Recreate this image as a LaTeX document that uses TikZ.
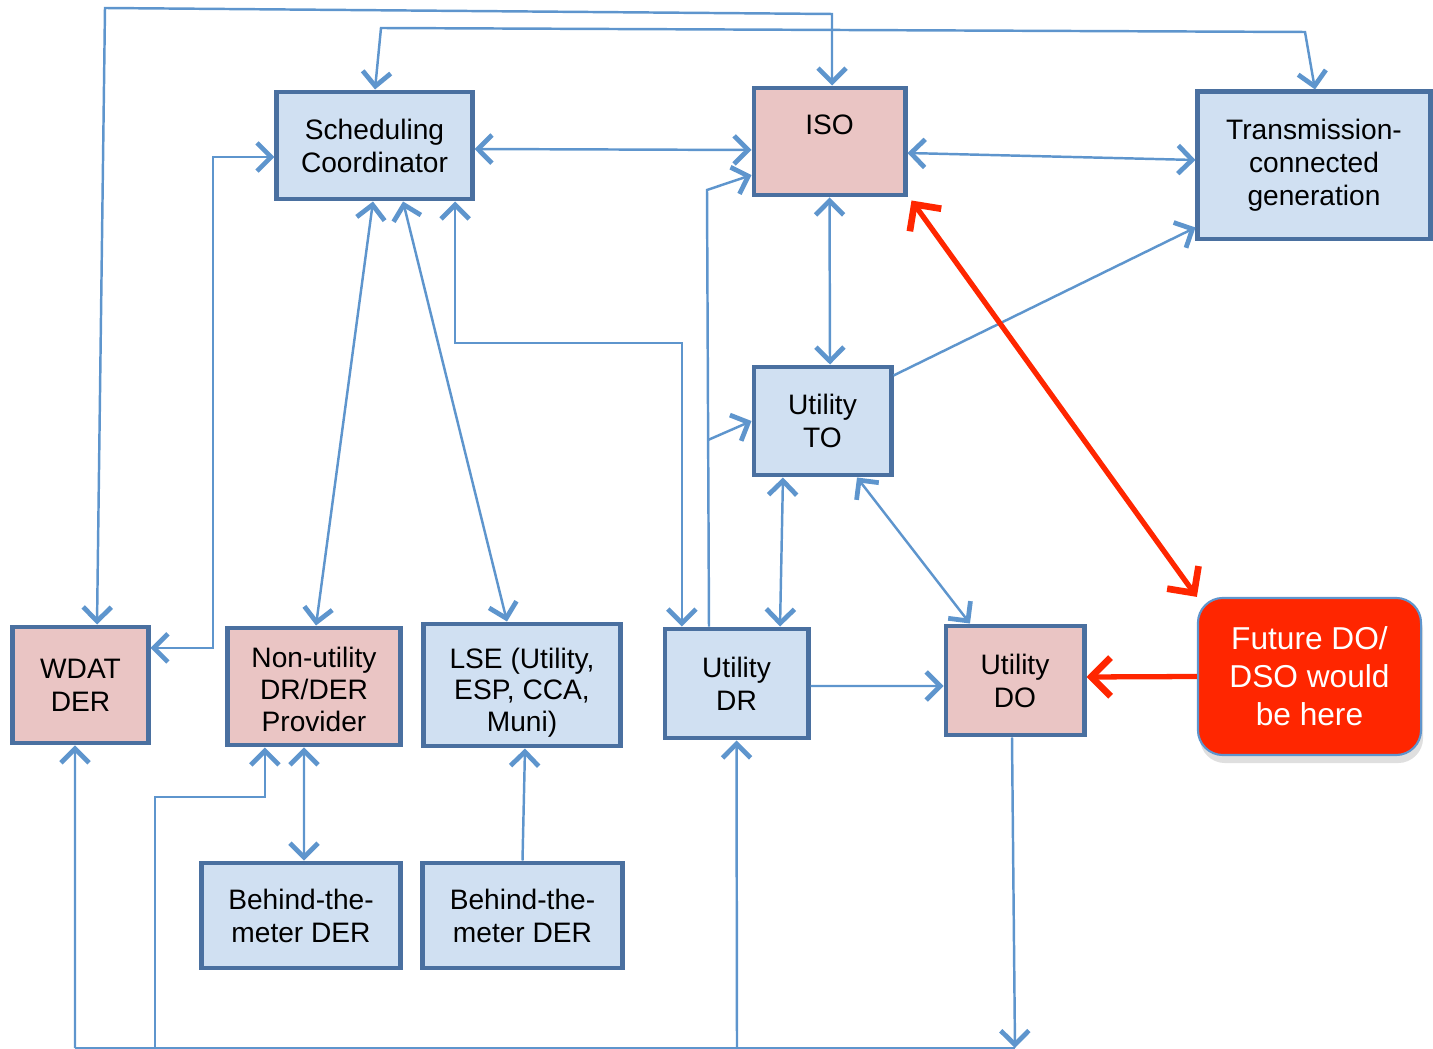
\documentclass[tikz,border=0pt]{standalone}
\usepackage{fontspec}
\setmainfont{Liberation Sans}
\usepackage{tikz}
\usepackage{xcolor}
\usetikzlibrary{arrows.meta,shadows}

\definecolor{boxblue}{HTML}{D0E0F2}
\definecolor{boxpink}{HTML}{EAC5C4}
\definecolor{boxline}{HTML}{4A70A0}
\definecolor{linkblue}{HTML}{5E95CD}
\definecolor{futred}{HTML}{FF2600}

\begin{document}
\begin{tikzpicture}[x=0.01cm, y=-0.01cm,
    font=\fontsize{8}{9.4}\selectfont,
    box/.style={draw=boxline, line width=1.4pt, inner sep=0pt, align=center},
    bluebox/.style={box, fill=boxblue},
    pinkbox/.style={box, fill=boxpink},
    link/.style={draw=linkblue, line width=0.7pt, >={Straight Barb[length=4pt,width=8pt,line width=1.35pt]}},
    redlink/.style={draw=futred, line width=1.5pt, >={Straight Barb[length=5.5pt,width=11pt,line width=1.9pt]}}]
					\useasboundingbox (0,0) rectangle (1433,1049);

					% boxes
					\node[bluebox, minimum width=1.95cm, minimum height=1.07cm] (sc) at (374.5,145.5) {Scheduling\\Coordinator};
					\node[pinkbox, minimum width=1.51cm, minimum height=1.07cm] (iso) at (829.5,141.5) {ISO\\\mbox{}};
					\node[bluebox, minimum width=2.32cm, minimum height=1.47cm] (tcg) at (1314,165.5) {Transmission-\\connected\\generation};
					\node[bluebox, minimum width=1.37cm, minimum height=1.08cm] (uto) at (822.5,421) {Utility\\TO};
					\node[pinkbox, minimum width=1.35cm, minimum height=1.16cm] (wdat) at (80.5,685) {WDAT\\DER};
					\node[pinkbox, minimum width=1.72cm, minimum height=1.17cm, font=\fontsize{8}{9}\selectfont, text height=25.5pt] (nup) at (314,686.5) {Non-utility\\DR/DER\\Provider};
					\node[bluebox, minimum width=1.96cm, minimum height=1.22cm, font=\fontsize{8}{9}\selectfont, text height=28pt] (lse) at (522,685) {LSE (Utility,\\ESP, CCA,\\Muni)};
					\node[bluebox, minimum width=1.43cm, minimum height=1.09cm] (udr) at (736.5,683.5) {Utility\\DR};
					\node[pinkbox, minimum width=1.38cm, minimum height=1.09cm] (udo) at (1015,680.5) {Utility\\DO};
					\node[bluebox, minimum width=1.98cm, minimum height=1.05cm] (btma) at (301,915.5) {Behind-the-\\meter DER};
					\node[bluebox, minimum width=1.99cm, minimum height=1.05cm] (btmb) at (522.5,915.5) {Behind-the-\\meter DER};
					\node[draw=linkblue, line width=0.6pt, fill=futred, rounded corners=2.5mm, text=white, align=center,
					      minimum width=2.23cm, minimum height=1.57cm, inner sep=0pt,
					      font=\fontsize{9}{10.8}\selectfont,
					      drop shadow={opacity=0.25, shadow xshift=0.2mm, shadow yshift=-0.8mm}] (fut) at (1309.5,676.5) {Future DO/\\DSO would\\be here};

					% long lines over the top
					\draw[link, <->] ([xshift=1.65mm]wdat.north) -- (105,8) -- (832,14) -- ([xshift=.25mm]iso.north);
					\draw[link, <->] ([xshift=.05mm]sc.north) -- (381,28) -- (1305,32) -- ([xshift=.1mm]tcg.north);

					% upper part
					\draw[link, <->] ([yshift=-.35mm]sc.east) -- ([yshift=-.85mm]iso.west);
					\draw[link, <->] ([yshift=-1.15mm]iso.east) -- ([yshift=.55mm]tcg.west);
					\draw[link, <->] (iso.south) -- ([xshift=.75mm]uto.north);
					\draw[link, ->] ([yshift=-1.1mm]uto.north east) -- ([yshift=1.4mm]tcg.south west);
					\draw[link, <->] ([yshift=-1.15mm]sc.west) -| (213,400) |- ([yshift=3.7mm]wdat.east);
					\draw[link, <->] ([xshift=-.15mm]sc.south) -- ([xshift=.2mm]nup.north);
					\draw[link, <->] ([xshift=2.85mm]sc.south) -- ([xshift=-1.5mm]lse.north);
					\draw[link, <->] ([xshift=8.05mm]sc.south) |- (600,343) -| ([xshift=-5.45mm]udr.north);

					% utility DR up to ISO and TO
					\coordinate (drtap) at (708,440);
					\draw[link, ->] ([xshift=-2.75mm]udr.north) -- (707,190) -- ([yshift=-3.35mm]iso.west);
					\draw[link, ->] (drtap) -- (uto.west);
					\draw[link, <->] ([xshift=-3.95mm]uto.south) -- ([xshift=4.35mm]udr.north);
					\draw[link, <->] ([xshift=3.45mm]uto.south) -- ([xshift=-4.5mm]udo.north);
					\draw[link, ->] ([yshift=-.25mm]udr.east) -- ([yshift=-.55mm]udo.west);

					% future DO/DSO
					\draw[redlink, ->] (fut.west) -- ([yshift=.35mm]udo.east);
					\draw[redlink, <->] ([shift={(.4mm,-.3mm)}]iso.south east) -- (fut.north west);

					% lower part
					\draw[link, <->] ([xshift=-1mm]nup.south) -- ([xshift=.3mm]btma.north);
					\draw[link, ->] (btmb.north) -- ([xshift=.3mm]lse.south);

					% bus along the bottom
					\coordinate (busw) at (75,1048);
					\coordinate (busa) at (155,1048);
					\coordinate (busb) at (737,1048);
					\coordinate (buse) at (1015,1048);
					\draw[link] (busw) -- (buse);
					\draw[link, ->] ([xshift=-.3mm]udo.south) -- (buse);
					\draw[link, ->] (busw) -- ([xshift=-.55mm]wdat.south);
					\draw[link, ->] (busa) |- (200,797) -| ([xshift=-4.9mm]nup.south);
					\draw[link, ->] (busb) -- (udr.south);
				\end{tikzpicture}
\end{document}
